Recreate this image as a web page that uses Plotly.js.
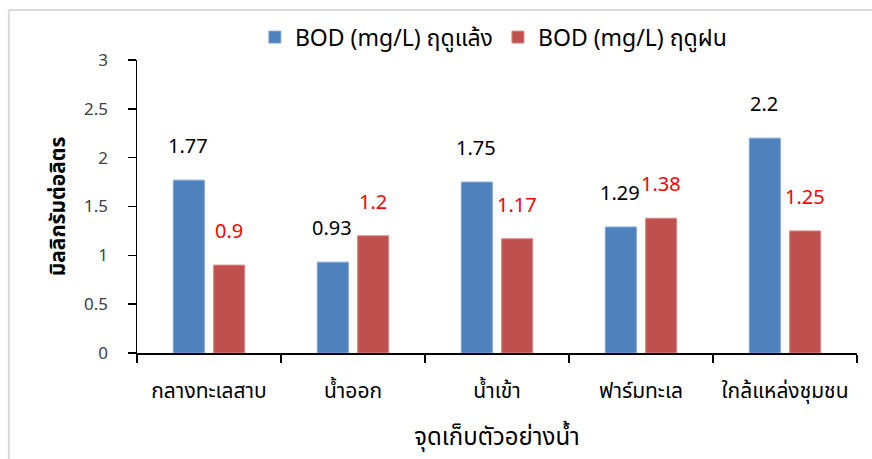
<!DOCTYPE html>
<html>
<head>
<meta charset="utf-8">
<script src="https://cdn.plot.ly/plotly-3.0.1.min.js"></script>
<style>
  html, body { margin: 0; padding: 0; background: #fff; overflow: hidden; }
  #chart { width: 872px; height: 459px; }
</style>
</head>
<body>
<div id="chart"></div>
<script>
const categories = ["กลางทะเลสาบ", "น้ำออก", "น้ำเข้า", "ฟาร์มทะเล", "ใกล้แหล่งชุมชน"];
const dryValues = [1.77, 0.93, 1.75, 1.29, 2.2];
const wetValues = [0.9, 1.2, 1.17, 1.38, 1.25];
const dryName = "BOD (mg/L) ฤดูแล้ง";
const wetName = "BOD (mg/L) ฤดูฝน";
const yTickVals = [0, 0.5, 1, 1.5, 2, 2.5, 3];
const yTickText = ["0", "0.5", "1", "1.5", "2", "2.5", "3"];
const xTitle = "จุดเก็บตัวอย่างน้ำ";
const yTitle = "มิลลิกรัมต่อลิตร";

const FONT = "Tahoma, 'Noto Sans Thai', Loma, Garuda, 'DejaVu Sans', sans-serif";
const blue = "#4f81bd";
const red = "#c0504d";

const traces = [
  { type: "bar", name: dryName, x: categories, y: dryValues,
    marker: { color: blue, line: { color: "#7fa6d6", width: 1 } }, hoverinfo: "y" },
  { type: "bar", name: wetName, x: categories, y: wetValues,
    marker: { color: red, line: { color: "#d88886", width: 1 } }, hoverinfo: "y" }
];

const annotations = [];
categories.forEach((c, i) => {
  annotations.push({ x: c, y: dryValues[i], xref: "x", yref: "y", text: String(dryValues[i]),
    showarrow: false, xshift: -21, yshift: 33, font: { family: FONT, size: 20, color: "#000" } });
  annotations.push({ x: c, y: wetValues[i], xref: "x", yref: "y", text: String(wetValues[i]),
    showarrow: false, xshift: 20, yshift: 33, font: { family: FONT, size: 20, color: "#ff0000" } });
});

const layout = {
  width: 872, height: 459,
  margin: { l: 137, r: 15, t: 60, b: 106 },
  paper_bgcolor: "#fff", plot_bgcolor: "#fff",
  font: { family: FONT, size: 16, color: "#000" },
  barmode: "group", bargap: 0.44, bargroupgap: 0.23,
  showlegend: true,
  legend: { orientation: "h", x: 0.495, xanchor: "center", y: 1.078, yanchor: "middle",
    font: { family: FONT, size: 23, color: "#000" }, itemwidth: 30, traceorder: "normal" },
  xaxis: {
    type: "category", showgrid: false, zeroline: false,
    showline: true, linecolor: "#000", linewidth: 1.5,
    ticks: "outside", tickson: "boundaries", ticklen: 8, tickcolor: "#000", tickwidth: 1.5,
    ticklabelstandoff: 18,
    tickfont: { family: FONT, size: 21, color: "#000" },
    title: { text: xTitle, font: { family: FONT, size: 24, color: "#000" }, standoff: 22 }
  },
  yaxis: {
    range: [0, 3], tickvals: yTickVals, ticktext: yTickText,
    showgrid: false, zeroline: false,
    showline: true, linecolor: "#000", linewidth: 1.5,
    ticks: "outside", ticklen: 8, tickcolor: "#000", tickwidth: 1.5,
    ticklabelstandoff: 16,
    tickfont: { family: FONT, size: 17, color: "#404040" },
    title: { text: "<b>" + yTitle + "</b>", font: { family: FONT, size: 21, color: "#000" }, standoff: 12 }
  },
  annotations: annotations,
  shapes: [
    { type: "line", xref: "paper", yref: "paper", x0: -0.178, x1: 1.1, y0: 1.1706, y1: 1.1706,
      line: { color: "#d9d9d9", width: 2 } },
    { type: "line", xref: "paper", yref: "paper", x0: -0.178, x1: -0.178, y0: 1.1706, y1: -0.45,
      line: { color: "#d9d9d9", width: 2 } }
  ]
};

Plotly.newPlot("chart", traces, layout, { staticPlot: true, displayModeBar: false });
</script>
</body>
</html>
